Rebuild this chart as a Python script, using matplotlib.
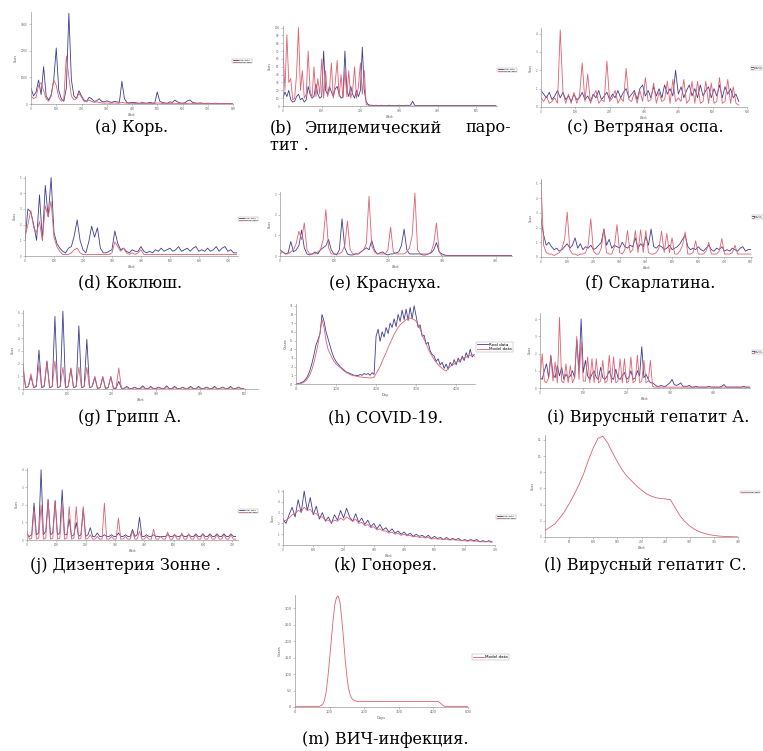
import numpy as np
import matplotlib
matplotlib.use("Agg")
import matplotlib.pyplot as plt

# ---------------- data ----------------
# (a) Корь, step 10
a_step = 10
a_real = [600,300,450,900,350,1400,300,150,350,900,2100,500,200,100,600,3400,900,300,200,500,
          300,150,100,250,200,100,120,200,100,80,120,80,60,100,80,60,850,200,50,40,
          60,50,40,30,50,40,30,60,40,30,450,100,60,40,30,80,60,150,80,40,
          30,50,120,150,60,40,30,40,30,20,30,20,20,30,20,20,20,20,20,20,20]
a_model = [300,200,250,700,800,500,200,100,300,900,700,250,100,200,1800,1000,300,150,200,400,
           250,100,80,150,100,60,80,60,40,30,40,30,30,40,30,30,60,40,30,20,
           30,20,20,20,20,20,20,20,20,20,40,30,20,20,20,20,20,30,20,20,
           20,20,20,30,20,20,20,20,20,20,20,20,20,20,20,20,20,20,20,20,20]

# (b) Эпидемический паротит, step 5
b_step = 5
b_real = [10,18,12,20,8,5,6,12,15,8, 10,5,8,25,15,10,12,28,15,10,
          12,70,20,15,25,18,12,22,25,15, 10,12,70,20,12,25,15,10,20,12,
          20,75,20,5,2,1,1,0.5,1,0.5, 0.5,1,0.5,0.5,0.5,1,0.5,0.5,0.5,0.5,
          1,0.5,0.5,0.5,1,0.5,1.5,6,1,0.5, 0.5,0.5,0.5,0.5,0.5,0.5,0.5,0.5,0.5,0.5,
          0.5,0.5,0.5,0.5,0.5,0.5,0.5,0.5,0.5,0.5, 0.5,0.5,0.5,0.5,0.5,0.5,0.5,0.5,0.5,0.5,
          0.5,0.5,0.5,0.5,0.5,0.5,0.5,0.5,0.5,0.5, 0.5]
b_model = [72,20,91,30,35,8,10,40,100,20, 45,10,15,70,20,10,50,12,35,15,
           60,10,45,12,20,55,10,30,58,12, 40,10,45,12,45,10,20,50,10,25,
           55,15,45,2,1,0,0,0,0,0, 0,0,0,0,0,0,0,0,0,0,
           0,0,0,0,0,0,0,0,0,0, 0,0,0,0,0,0,0,0,0,0,
           0,0,0,0,0,0,0,0,0,0, 0,0,0,0,0,0,0,0,0,0,
           0,0,0,0,0,0,0,0,0,0, 0]

# (c) Ветряная оспа, step 8
c_step = 8
c_real = [0.9,0.7,0.5,0.8,0.4,0.6,0.9,0.5,0.8,0.4, 0.6,0.3,0.7,0.4,0.5,0.8,0.4,0.6,0.3,0.7,
          0.5,0.9,0.4,0.6,0.8,0.4,0.7,0.5,0.9,0.5, 0.8,1.0,0.5,0.7,0.9,0.4,1.0,1.2,0.6,0.9,
          0.5,1.1,0.6,1.0,0.5,1.2,0.7,1.0,0.6,2.0, 0.7,1.1,0.5,0.9,1.2,0.6,1.0,0.5,1.2,0.6,
          0.9,1.1,0.5,1.0,0.6,1.2,0.5,1.1,0.7,1.0, 0.5,0.7,0.3]
c_model = [0.5,0.3,0.6,0.2,0.3,0.5,0.2,4.2,0.8,0.2, 0.7,0.2,0.8,0.2,0.6,2.4,0.3,1.8,0.2,0.6,
           0.9,0.2,0.4,0.3,2.5,0.3,0.5,0.9,0.2,0.5, 0.3,2.1,0.4,0.3,0.8,0.2,0.9,0.3,1.6,0.3,
           0.4,1.3,0.2,0.8,0.3,0.4,1.4,0.2,1.5,0.3, 0.5,0.3,1.5,0.2,0.4,1.4,0.2,1.4,0.2,0.3,
           1.4,0.2,1.3,0.2,0.3,1.6,0.2,0.3,1.5,0.2, 1.1,0.2,0.1]

# (d) Коклюш, step 10
d_step = 10
d_real = [1.0,3.0,2.8,2.0,1.0,3.9,1.0,4.5,2.5,5.0, 1.5,0.8,0.5,0.3,0.2,0.5,0.6,1.3,2.3,1.0,
          0.4,0.2,0.9,1.9,1.2,1.8,0.5,0.2,0.2,0.3, 0.4,1.6,0.8,0.4,0.5,0.3,0.2,0.4,0.3,0.3,
          0.6,0.3,0.2,0.3,0.2,0.4,0.3,0.5,0.3,0.4, 0.5,0.3,0.4,0.6,0.3,0.4,0.5,0.3,0.5,0.6,
          0.3,0.4,0.3,0.5,0.3,0.4,0.6,0.3,0.5,0.6, 0.3,0.4,0.2,0.2]
d_model = [1.2,2.0,2.9,1.8,1.5,2.2,1.0,3.2,2.5,3.5, 1.2,0.6,0.3,0.1,0.1,0.1,0.2,0.4,0.5,0.2,
           0.1,0.1,0.1,0.1,0.1,0.1,0.1,0.1,0.1,0.1, 0.2,0.9,0.6,0.3,0.5,0.2,0.1,0.2,0.1,0.2,
           0.4,0.1,0.1,0.1,0.1,0.1,0.1,0.1,0.1,0.1, 0.1,0.1,0.1,0.1,0.1,0.1,0.1,0.1,0.1,0.1,
           0.1,0.1,0.1,0.1,0.1,0.1,0.1,0.1,0.1,0.1, 0.1,0.1,0.1,0.1]

# (e) Краснуха, step 5
e_step = 5
e_real = [0.3,0.2,0.1,0.15,0.7,0.2,0.3,0.5,1.25,0.4, 0.1,0.05,0.1,0.2,0.1,0.3,0.4,0.5,0.8,0.3,
          0.1,0.05,0.3,1.8,0.4,0.1,0.05,0.05,0.1,0.1, 0.2,0.3,0.4,0.3,0.75,0.3,0.1,0.15,0.2,0.1,
          0.05,0.1,0.1,0.15,0.2,0.5,1.3,0.3,0.1,0.1, 0.1,0.1,0.1,0.05,0.05,0.1,0.15,0.3,0.65,0.2,
          0.1,0.05,0.02,0.02,0.02,0.02,0.02,0.02,0.02,0.02, 0.02,0.02,0.02,0.02,0.02,0.02,0.02,0.02,0.02,0.02,
          0.02,0.02,0.02,0.02,0.02,0.02,0.02,0.02]
e_model = [0.1,0.2,0.1,0.1,0.2,0.3,0.6,1.2,0.8,1.6, 0.3,0.1,0.1,0.1,0.2,0.3,0.8,2.25,0.4,0.1,
           0.1,0.1,0.1,0.2,0.5,1.7,0.3,0.1,0.1,0.1, 0.2,0.3,0.6,2.9,0.5,0.2,0.1,0.1,0.1,0.1,
           0.3,1.4,0.2,0.1,0.1,0.1,0.1,0.2,0.4,1.0, 3.05,0.3,0.1,0.1,0.1,0.1,0.2,0.6,1.6,0.2,
           0,0,0,0,0,0,0,0,0,0, 0,0,0,0,0,0,0,0,0,0, 0,0,0,0,0,0,0,0]

# (f) Скарлатина, step 10
f_step = 10
f_real = [2.6,1.5,0.8,1.0,0.7,0.5,0.6,0.4,0.5,0.7, 0.9,0.6,0.8,1.3,0.6,0.9,0.5,0.7,0.6,0.8,
          0.5,0.6,0.8,1.0,1.9,0.8,1.2,0.6,0.8,0.7, 0.6,1.0,0.7,0.6,0.8,0.7,1.3,0.6,0.9,0.7,
          1.4,0.8,1.9,0.7,0.6,0.8,0.7,0.5,0.6,0.8, 0.5,0.6,0.7,0.9,1.2,1.5,0.7,0.5,0.6,0.5,
          0.7,0.5,0.4,0.6,0.8,0.5,0.4,0.6,0.5,0.7, 0.4,0.5,0.4,0.6,0.5,0.4,0.6,0.7,0.4,0.5, 0.5]
f_model = [5.2,0.8,0.3,0.2,0.2,0.1,0.2,0.3,0.6,1.2, 3.05,0.5,0.2,0.2,0.1,0.2,0.2,0.3,0.8,2.6,
           0.4,0.2,0.2,0.6,1.9,0.3,0.2,0.2,0.7,2.2, 0.3,0.2,0.5,1.8,0.3,0.5,1.8,0.3,1.85,0.3,
           1.8,0.3,0.2,0.2,0.3,0.6,1.75,0.3,1.6,0.3, 1.3,0.2,0.2,0.4,0.8,1.7,0.2,0.2,0.3,1.1,
           0.2,0.2,0.2,0.4,1.0,0.2,0.2,0.2,0.4,1.25, 0.2,0.2,0.2,0.3,0.8,0.2,0.2,0.2,0.2,0.2, 0.2]

# (g) Грипп A, step 6
g_step = 6
g_real = [1.5,0.1,0.2, 1.0,0.1,0.2, 3.05,0.1,0.2, 2.2,0.1,0.2, 5.7,0.1,0.2, 6.1,0.1,0.2,
          1.6,0.1,0.2, 4.95,0.1,0.2, 3.9,0.1,0.2, 0.9,0.05,0.1, 0.9,0.05,0.1, 0.95,0.05,0.05,
          0.6,0.05,0.05, 0.2,0.05,0.05, 0.15,0.03,0.05, 0.25,0.05,0.03, 0.2,0.03,0.05, 0.15,0.05,0.03,
          0.25,0.03,0.05, 0.2,0.05,0.03, 0.15,0.03,0.05, 0.2,0.05,0.03, 0.2,0.03,0.05, 0.15,0.05,0.03,
          0.2,0.03,0.05, 0.15,0.05,0.03, 0.2,0.03,0.05, 0.15,0.03,0.03]
g_model = [2.0,0.1,0.2, 1.2,0.1,0.3, 1.9,0.1,0.3, 2.1,0.1,0.2, 2.2,0.1,0.2, 1.7,0.1,0.2,
           1.65,0.1,0.2, 1.7,0.1,0.2, 1.7,0.1,0.2, 1.0,0.05,0.1, 1.0,0.05,0.1, 1.0,0.05,0.1,
           1.65,0.05,0.05, 0.1,0.02,0.02, 0.1,0.02,0.02, 0.1,0.02,0.02, 0.1,0.02,0.02, 0.1,0.02,0.02,
           0.1,0.02,0.02, 0.1,0.02,0.02, 0.1,0.02,0.02, 0.1,0.02,0.02, 0.1,0.02,0.02, 0.1,0.02,0.02,
           0.1,0.02,0.02, 0.1,0.02,0.02, 0.1,0.02,0.02, 0.1,0.02,0.02]

# (h) COVID-19, step 5 days
h_step = 5
h_real = [0.0,0.05,0.1,0.2,0.35,0.6,1.0,1.6,2.4,3.4, 4.5,5.1,5.8,8.0,7.2,6.0,5.2,4.4,3.6,3.0,
          2.6,2.3,2.0,1.8,1.6,1.4,1.3,1.2,1.1,1.0, 1.0,0.95,1.1,1.0,1.2,1.1,1.2,1.0,1.3,1.1,
          5.5,6.3,4.9,6.0,5.4,6.5,5.8,7.0,6.5,7.5, 6.6,8.0,7.2,8.5,7.4,8.6,7.3,8.8,7.5,9.0,
          7.8,6.5,6.8,5.5,5.6,4.6,4.8,3.8,3.4,3.2, 2.6,2.9,2.2,2.5,1.8,2.3,1.7,2.5,2.1,2.8,
          2.2,3.0,2.5,3.2,2.7,3.6,3.0,4.0,3.1,3.4]
h_model = [0.0,0.0,0.05,0.1,0.2,0.4,0.7,1.1,1.7,2.5, 3.5,4.6,5.9,7.4,6.5,5.0,4.0,3.5,3.0,2.6,
           2.3,2.1,1.9,1.7,1.5,1.35,1.2,1.1,1.0,0.95, 0.9,0.85,0.8,0.8,0.75,0.75,0.7,0.7,0.7,0.8,
           1.2,1.6,2.0,2.6,3.1,3.6,4.2,4.7,5.2,5.7, 6.1,6.5,6.8,7.0,7.2,7.4,7.5,7.6,7.5,7.4,
           7.2,6.8,6.3,5.7,5.1,4.6,4.1,3.6,3.2,2.8, 2.5,2.2,2.0,1.8,1.6,1.5,1.8,2.0,2.2,2.3,
           2.5,2.6,2.8,2.9,3.0,3.1,3.2,3.3,3.4,3.2]

# (i) Вирусный гепатит A, step 5
i_step = 5
i_real = [0.6,0.5,1.0,1.4,0.6,1.9,0.8,0.6,1.3,0.7, 1.2,0.5,0.8,0.6,0.7,1.0,0.6,2.8,1.0,4.0,
          0.9,1.6,0.7,0.5,0.8,1.0,0.6,0.5,1.2,0.6, 0.5,0.7,1.0,0.6,0.5,1.1,0.6,0.5,0.7,0.9,
          0.5,0.6,1.0,0.5,0.6,1.0,0.7,2.4,0.6,0.8, 0.5,0.3,0.3,0.2,0.1,0.1,0.15,0.1,0.1,0.2,
          0.3,0.5,0.2,0.15,0.2,0.3,0.1,0.1,0.1,0.15, 0.05,0.05,0.1,0.05,0.05,0.05,0.05,0.05,0.1,0.05,
          0.05,0.05,0.05,0.05,0.1,0.2,0.05,0.05,0.05,0.05, 0.05,0.05,0.05,0.05,0.1,0.05,0.05,0.05,0.05]
i_model = [0.5,2.0,0.4,0.3,0.6,1.8,0.4,1.5,0.3,4.1, 0.4,0.3,1.4,0.3,1.3,0.3,0.6,3.0,0.5,2.7,
           0.4,0.4,1.8,0.3,1.7,0.3,1.7,0.3,0.4,1.6, 0.3,0.4,1.9,0.3,1.8,0.3,0.4,1.7,0.3,1.7,
           0.3,0.4,1.8,0.3,0.4,1.9,0.3,0.4,1.6,0.3, 0.4,1.6,0.1,0.05,0.05,0.05,0.05,0.05,0.05,0.05,
           0.05,0.05,0.05,0.05,0.05,0.05,0.05,0.05,0.05,0.05, 0.05,0.05,0.05,0.05,0.05,0.05,0.05,0.05,0.05,0.05,
           0.05,0.05,0.05,0.05,0.05,0.05,0.05,0.05,0.05,0.05, 0.05,0.05,0.05,0.05,0.05,0.05,0.05,0.05,0.05]

# (j) Дизентерия Зонне, step 8
j_step = 8
j_real = [0.3,0.2,0.3, 2.1,0.3,0.4, 4.0,0.3,0.5, 2.3,0.3,0.4, 2.25,0.3,0.4, 2.85,0.3,0.3,
          1.2,0.2,0.3, 1.0,0.2,0.3, 1.8,0.2,0.3, 0.7,0.2,0.2, 0.4,0.2,0.2, 0.3,0.2,0.2,
          0.3,0.2,0.2, 0.4,0.2,0.2, 0.3,0.2,0.2, 0.6,0.2,0.3, 1.3,0.2,0.2, 0.3,0.2,0.2,
          0.3,0.2,0.2, 0.2,0.2,0.2, 0.3,0.2,0.2, 0.3,0.2,0.2, 0.3,0.2,0.2, 0.3,0.2,0.2,
          0.35,0.2,0.2, 0.35,0.2,0.2, 0.35,0.2,0.2, 0.35,0.2,0.2, 0.35,0.2,0.2, 0.35,0.2,0.2]
j_model = [0.5,0.05,0.1, 1.7,0.05,0.1, 2.0,0.05,0.1, 2.3,0.05,0.1, 2.2,0.05,0.1, 2.0,0.05,0.1,
           1.9,0.05,0.1, 1.9,0.05,0.1, 1.9,0.05,0.1, 0.3,0.05,0.05, 0.2,0.05,0.05, 2.1,0.05,0.05,
           0.2,0.05,0.05, 1.25,0.05,0.05, 0.2,0.05,0.05, 0.5,0.05,0.05, 0.5,0.05,0.05, 0.2,0.05,0.05,
           0.6,0.05,0.05, 0.2,0.05,0.05, 0.45,0.05,0.05, 0.3,0.05,0.05, 0.4,0.05,0.05, 0.35,0.05,0.05,
           0.3,0.05,0.05, 0.35,0.05,0.05, 0.3,0.05,0.05, 0.3,0.05,0.05, 0.3,0.05,0.05, 0.3,0.05,0.05]

# (k) Гонорея, step 10
k_step = 10
k_real = [2.4,2.0,2.8,3.5,2.6,4.2,3.0,5.0,3.2,4.4, 2.8,3.6,2.4,3.0,2.2,2.6,2.0,2.8,2.3,3.2,
          2.5,3.4,2.6,2.2,2.9,2.1,2.5,1.9,2.3,1.7, 2.0,1.5,1.9,1.4,1.6,1.2,1.5,1.1,1.3,1.0,
          1.2,0.9,1.1,0.8,1.0,0.8,0.9,0.7,0.9,0.6, 0.8,0.6,0.7,0.5,0.7,0.5,0.6,0.5,0.6,0.4,
          0.5,0.4,0.5,0.4,0.5,0.3,0.4,0.3,0.4,0.3]
k_model = [2.2,2.3,2.5,2.8,2.9,3.2,3.1,3.5,3.2,3.3, 2.9,2.9,2.6,2.6,2.3,2.3,2.1,2.3,2.2,2.5,
           2.3,2.6,2.4,2.2,2.4,2.0,2.1,1.8,1.9,1.6, 1.7,1.4,1.5,1.3,1.3,1.1,1.2,1.0,1.1,0.9,
           1.0,0.85,0.9,0.75,0.8,0.7,0.75,0.65,0.7,0.55, 0.6,0.55,0.55,0.5,0.55,0.45,0.5,0.45,0.45,0.4,
           0.4,0.35,0.4,0.35,0.35,0.3,0.3,0.3,0.3,0.25]

# (l) Вирусный гепатит C, step 10
l_step = 10
l_model = [0.82,1.2,1.6,2.3,3.1,4.1,5.2,6.4,7.8,9.5, 11.0,12.2,12.45,11.6,10.4,9.3,8.3,7.5,6.9,6.3,
           5.8,5.35,5.05,4.85,4.75,4.7,4.6,3.6,2.6,1.9, 1.35,0.95,0.65,0.45,0.3,0.2,0.12,0.08,0.05,0.03, 0.02]

# (m) ВИЧ-инфекция, step 5
m_step = 5
m_model = [2,2,2,2,2,2,2,2,2,2,2,2,2,2,2,
           4,8,20,45,90,145,205,262,310,333,337,318,270,210,145,92,55,35,25,20,18.5,
           17,17,17,17,17,17,17,17,17,17,17,17,17,17,17,17,17,17,17,17,17,17,17,17,17,
           17,17,17,17,17,17,17,17,17,17,17,17,17,17,17,17,17,17,17,17,17,17,
           16,12,7,3,2,
           2,2,2,2,2,2,2,2,2,2,2,2,2,2,2,2,2]

captions = ["(a) Корь.", "(c) Ветряная оспа.", "(d) Коклюш.", "(e) Краснуха.",
            "(f) Скарлатина.", "(g) Грипп А.", "(h) COVID-19.", "(i) Вирусный гепатит А.",
            "(j) Дизентерия Зонне .", "(k) Гонорея.", "(l) Вирусный гепатит С.",
            "(m) ВИЧ-инфекция."]
legend_labels = ["Real data", "Model data"]

# ---------------- drawing ----------------
W, H = 763, 751
fig = plt.figure(figsize=(W / 100, H / 100), dpi=100)
BLUE = "#3d3d92"
RED = "#e0606f"
GRAY = "#9a9a9a"


def rect(x0, y0, x1, y1):
    return [x0 / W, 1 - y1 / H, (x1 - x0) / W, (y1 - y0) / H]


def panel(box, step, real, model, xlim, ylim, xticks, yticks, leg=None, leg_fs=1.6,
          leg_hl=2.5, xlabel="Week", ylabel="Cases", lab_fs=2.0):
    ax = fig.add_axes(rect(*box))
    if real is not None:
        ax.plot(np.arange(len(real)) * step, real, color=BLUE, lw=0.6, label=legend_labels[0])
    ax.plot(np.arange(len(model)) * step, model, color=RED, lw=0.6, label=legend_labels[1])
    ax.set_xlim(*xlim)
    ax.set_ylim(*ylim)
    ax.set_xticks(xticks)
    ax.set_yticks(yticks)
    for s in ("top", "right"):
        ax.spines[s].set_visible(False)
    for s in ("left", "bottom"):
        ax.spines[s].set_color(GRAY)
        ax.spines[s].set_linewidth(0.5)
    ax.tick_params(length=1.5, width=0.4, color=GRAY, labelsize=lab_fs, labelcolor="#666666", pad=1)
    ax.set_xlabel(xlabel, fontsize=lab_fs, color="#555555", labelpad=1)
    ax.set_ylabel(ylabel, fontsize=lab_fs, color="#555555", labelpad=2)
    if leg is not None:
        lg = ax.legend(loc="center left", bbox_to_anchor=(leg[0] / W, 1 - leg[1] / H),
                       bbox_transform=fig.transFigure, fontsize=leg_fs, frameon=True,
                       fancybox=False, borderpad=0.3, handlelength=leg_hl, labelspacing=0.1,
                       handletextpad=0.4, borderaxespad=0)
        lg.get_frame().set_linewidth(0.3)
        lg.get_frame().set_edgecolor("#888888")
    return ax


panel((31, 12, 233, 104), a_step, a_real, a_model, (0, 800), (0, 3450),
      range(0, 801, 100), range(0, 3001, 1000), leg=(232, 61))
panel((283, 26, 497, 106), b_step, b_real, b_model, (0, 553), (0, 102),
      range(0, 501, 100), range(0, 101, 10), leg=(497, 70))
panel((541, 28, 747, 107), c_step, c_real, c_model, (0, 600), (0, 4.3),
      range(0, 601, 100), range(0, 5), leg=(751, 68), leg_fs=0.9, leg_hl=1.2)
panel((25, 176, 238, 256), d_step, d_real, d_model, (0, 735), (0, 5.1),
      range(0, 701, 100), range(0, 6), leg=(238, 219))
panel((280, 192, 512, 256), e_step, e_real, e_model, (0, 430), (0, 3.1),
      range(0, 401, 100), range(0, 4))
panel((541, 179, 752, 257), f_step, f_real, f_model, (0, 805), (0, 5.3),
      range(0, 801, 100), range(0, 6), leg=(752, 217), leg_fs=0.9, leg_hl=1.0)
panel((23, 310, 258, 389), g_step, g_real, g_model, (0, 530), (0, 6.2),
      range(0, 501, 100), range(0, 7))
panel((296, 304, 475, 384), h_step, h_real, h_model, (0, 447), (0, 9.2),
      range(0, 401, 100), range(0, 10), leg=(476, 347), leg_fs=3.0,
      xlabel="Day", lab_fs=2.6)
panel((540, 313, 750, 388), i_step, i_real, i_model, (0, 485), (0, 4.35),
      range(0, 401, 100), range(0, 5), leg=(752, 352), leg_fs=0.9, leg_hl=1.0)
panel((27, 468, 238, 540), j_step, j_real, j_model, (0, 720), (0, 4.1),
      range(0, 701, 100), range(0, 5), leg=(238, 511))
panel((283, 490, 495, 545), k_step, k_real, k_model, (0, 700), (0, 5.1),
      range(0, 701, 100), range(0, 6), leg=(496, 517))
panel((545, 435, 738, 537), l_step, None, l_model, (0, 400), (0, 12.6),
      range(0, 401, 50), range(0, 13, 2), leg=(740, 492))
panel((295, 595, 468, 707), m_step, None, m_model, (0, 500), (0, 340),
      range(0, 501, 100), range(0, 301, 50), leg=(472, 657), leg_fs=3.0,
      xlabel="Days", lab_fs=2.6)

# captions
cap_kw = dict(fontsize=11.5, family="DejaVu Serif", va="center", color="black")
cap_pos = [(132, 128), (645, 128), (130, 283), (385, 283), (650, 283), (130, 418),
           (385, 418), (648, 418), (125, 566), (385, 566), (645, 566), (385, 740)]
for txt, (cx, cy) in zip(captions, cap_pos):
    fig.text(cx / W, 1 - cy / H, txt, ha="center", **cap_kw)
# justified two-line caption (b)
fig.text(270 / W, 1 - 128 / H, "(b)", ha="left", **cap_kw)
fig.text(304 / W, 1 - 128 / H, "Эпидемический", ha="left", **cap_kw)
fig.text(511 / W, 1 - 128 / H, "паро-", ha="right", **cap_kw)
fig.text(270 / W, 1 - 146 / H, "тит .", ha="left", **cap_kw)

fig.savefig("out.png", dpi=100, facecolor="white")
